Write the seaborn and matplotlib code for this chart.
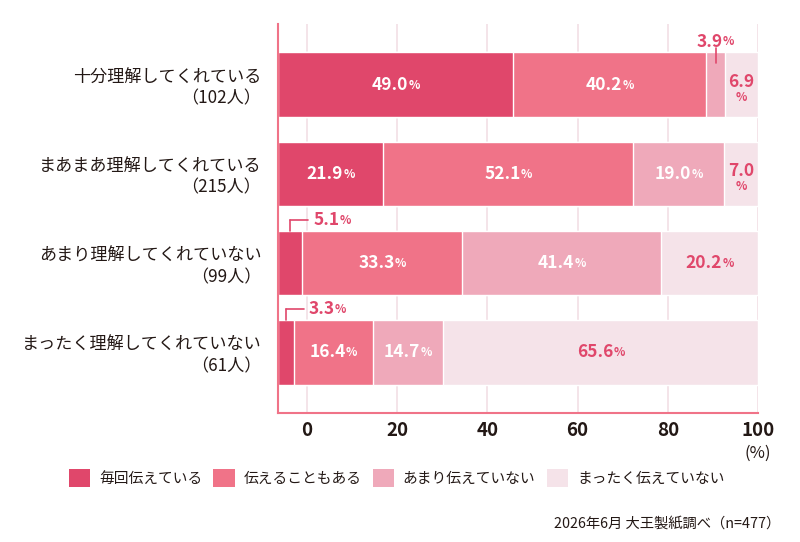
import numpy as np
import pandas as pd
import matplotlib
matplotlib.use('Agg')
import matplotlib.pyplot as plt
import seaborn as sns
from matplotlib.patches import Patch

# データ
categories = ['十分理解してくれている\n（102人）', 'まあまあ理解してくれている\n（215人）',
              'あまり理解してくれていない\n（99人）', 'まったく理解してくれていない\n（61人）']
series_names = ['毎回伝えている', '伝えることもある', 'あまり伝えていない', 'まったく伝えていない']
every_time = [49.0, 21.9, 5.1, 3.3]
sometimes = [40.2, 52.1, 33.3, 16.4]
rarely = [3.9, 19.0, 41.4, 14.7]
never = [6.9, 7.0, 20.2, 65.6]
tick_labels = ['0', '20', '40', '60', '80', '100']

colors = ['#E0476B', '#F07388', '#EFA9BA', '#F5E3E9']
pink = '#E0476B'
dark = '#231815'

sns.set_theme(style='white')
plt.rcParams['font.family'] = ['Noto Sans CJK JP', 'DejaVu Sans']

vals = np.array([every_time, sometimes, rarely, never])
cum = vals.cumsum(axis=0)

fig = plt.figure(figsize=(8, 5.42), dpi=100)
ax = fig.add_axes([278/800, 1-413/542, 480/800, 389/542])

# 積み上げ：合計の大きい方から重ねて描く
for k in range(3, -1, -1):
    df = pd.DataFrame({'cat': categories, 'val': cum[k]})
    sns.barplot(data=df, x='val', y='cat', orient='h', color=colors[k], saturation=1,
                width=0.726, ax=ax, zorder=2)

ax.set_xlim(0, 100)
ax.set_ylim(3.68, -0.68)
ax.set_xlabel('')
ax.set_ylabel('')

# 目盛りの位置（元図の通り）
tick_pos = [100 - 18.8 * (5 - i) for i in range(6)]
ax.set_xticks(tick_pos)
ax.set_xticklabels(tick_labels, fontsize=13.5, fontweight='bold', color=dark)
ax.tick_params(axis='x', length=0, pad=6)
ax.tick_params(axis='y', length=0, pad=12)
for t in ax.get_yticklabels():
    t.set_fontsize(12.3)
    t.set_color(dark)
    t.set_linespacing(1.2)
ax.grid(axis='x', color='#F2DFE5', linewidth=1.2, zorder=0)
ax.set_axisbelow(True)
for s in ['top', 'right']:
    ax.spines[s].set_visible(False)
for s in ['left', 'bottom']:
    ax.spines[s].set_color('#F07388')
    ax.spines[s].set_linewidth(1.5)


def put_value(x, y, v, color, stacked=False, ha='center'):
    num = f'{v:.1f}'
    if stacked:
        ax.text(x, y, num, ha='center', va='center', fontsize=12.5, fontweight='bold', color=color, zorder=5)
        ax.annotate('%', xy=(x, y), xytext=(0, -11), textcoords='offset points', ha='center', va='center',
                    fontsize=8.5, fontweight='bold', color=color, zorder=5)
        return
    if ha == 'center':
        t = ax.annotate(num, xy=(x, y), xytext=(-4, 0), textcoords='offset points', ha='center', va='center',
                        fontsize=12.5, fontweight='bold', color=color, zorder=5)
    else:
        t = ax.annotate(num, xy=(x, y), xytext=(0, 0), textcoords='offset points', ha='left', va='center',
                        fontsize=12.5, fontweight='bold', color=color, zorder=5)
    ax.annotate('%', xy=(1, 0.12), xycoords=t, ha='left', va='bottom',
                fontsize=8.5, fontweight='bold', color=color, zorder=5)


half = 0.726 / 2
for k in range(4):
    for i in range(4):
        v = vals[k, i]
        cx = cum[k, i] - v / 2
        col = 'white' if k < 3 else pink
        if v < 4.5 and k == 2:
            ax.plot([cx, cx], [i - half - 0.045, i - half + 0.12], color=pink, lw=1.2, zorder=4, clip_on=False)
            put_value(cx, i - half - 0.12, v, pink)
        elif v < 6 and k == 0:
            ax.plot([cx, cx], [i - half, i - half - 0.12], color=pink, lw=1.2, zorder=4, clip_on=False)
            ax.plot([cx, cx + 3.7], [i - half - 0.12, i - half - 0.12], color=pink, lw=1.2, zorder=4,
                    clip_on=False)
            put_value(cx + 4.8, i - half - 0.12, v, pink, ha='left')
        elif v < 8:
            put_value(cx, i - 0.03, v, col, stacked=True)
        else:
            put_value(cx, i, v, col)

fig.text(758/800, 1-453/542, '(%)', ha='center', va='center', fontsize=12, color=dark)

handles = [Patch(facecolor=c, edgecolor='none') for c in colors]
fig.legend(handles, series_names, loc='center left', bbox_to_anchor=(69/800, 1-478/542), ncol=4,
           frameon=False, fontsize=10.6, handlelength=1.45, handleheight=1.45, handletextpad=0.6,
           columnspacing=0.75, labelcolor=dark, borderpad=0, borderaxespad=0)

fig.text(780/800, 1-524/542, '2026年6月 大王製紙調べ（n=477）', ha='right', va='center', fontsize=10.3,
         color=dark)

fig.savefig('out.png', dpi=100)
